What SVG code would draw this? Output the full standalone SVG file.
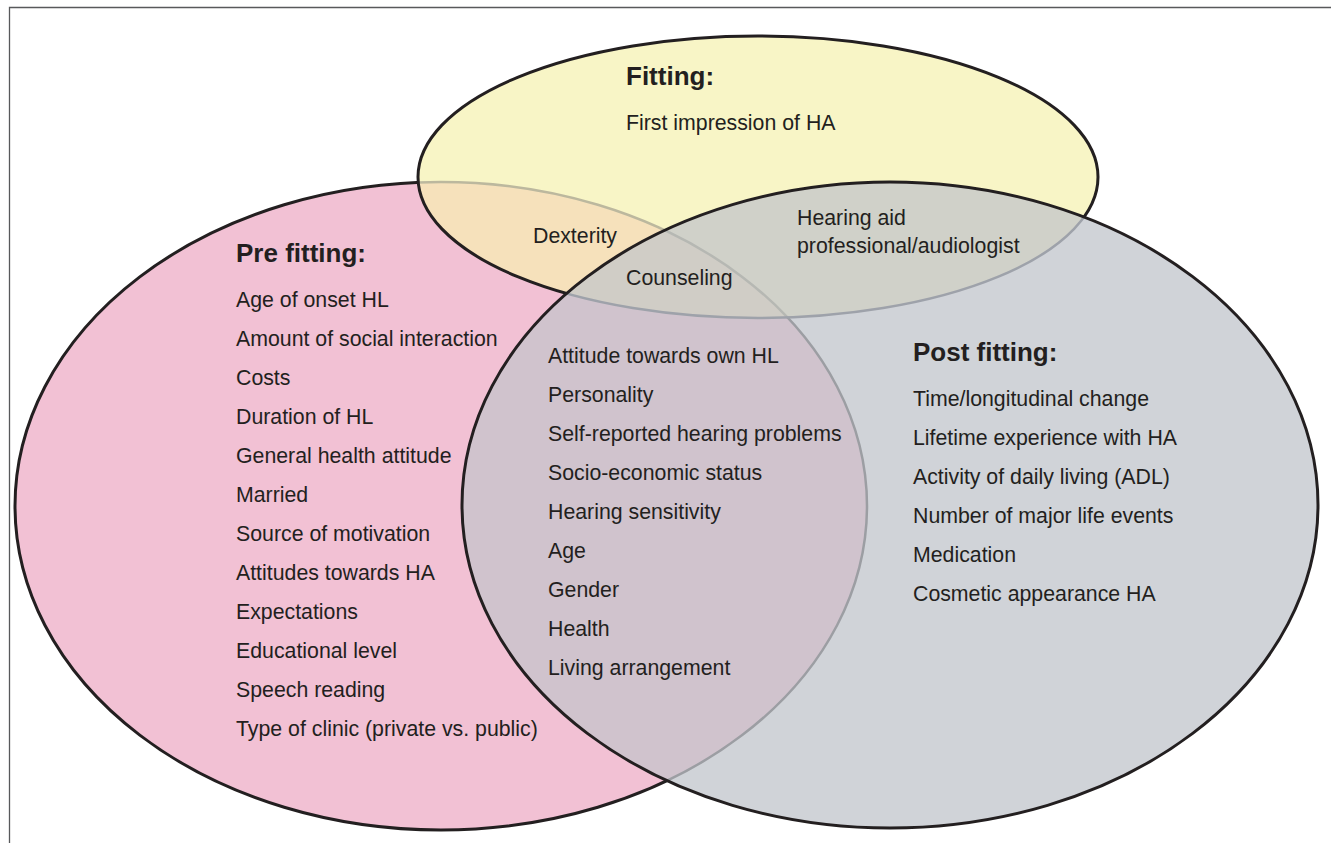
<svg xmlns="http://www.w3.org/2000/svg" width="1331" height="843" viewBox="0 0 1331 843">
<style>
text{font-family:"Liberation Sans",Arial,Helvetica,sans-serif;fill:#231f20;font-size:21.3px}
.t{font-weight:bold;font-size:26px}
.ol{fill:none;stroke:#231f20;stroke-width:3}
.il{fill:none;stroke-width:2.5}
</style>
<defs>
<ellipse id="eP" cx="441" cy="506" rx="426" ry="324"/>
<ellipse id="eY" cx="758" cy="177" rx="340" ry="141"/>
<ellipse id="eG" cx="890" cy="505" rx="428" ry="323"/>
<clipPath id="cP"><use href="#eP"/></clipPath>
<clipPath id="cY"><use href="#eY"/></clipPath>
<clipPath id="cG"><use href="#eG"/></clipPath>
<mask id="mNotY" maskUnits="userSpaceOnUse" x="0" y="0" width="1331" height="843"><rect width="1331" height="843" fill="#fff"/><use href="#eY" fill="#000"/></mask>
<mask id="mNotG" maskUnits="userSpaceOnUse" x="0" y="0" width="1331" height="843"><rect width="1331" height="843" fill="#fff"/><use href="#eG" fill="#000"/></mask>
<mask id="mNotYG" maskUnits="userSpaceOnUse" x="0" y="0" width="1331" height="843"><rect width="1331" height="843" fill="#fff"/><use href="#eY" fill="#000"/><use href="#eG" fill="#000"/></mask>
</defs>
<rect width="1331" height="843" fill="#fff"/>
<path d="M9.5,843 V7.5 H1331" fill="none" stroke="#58595b" stroke-width="1.3"/>

<g id="shapes">
<use href="#eP" fill="#f2c1d4"/>
<use href="#eY" fill="#f8f5c6"/>
<use href="#eG" fill="#d0d3d8"/>
<use href="#eY" fill="#f6e1bb" clip-path="url(#cP)"/>
<use href="#eG" fill="#d0c3cd" clip-path="url(#cP)"/>
<use href="#eG" fill="#d0d1c9" clip-path="url(#cY)"/>
<g clip-path="url(#cY)"><use href="#eG" fill="#d0cdc6" clip-path="url(#cP)"/></g>
<g mask="url(#mNotG)"><use href="#eP" class="il" stroke="#bcb89e" clip-path="url(#cY)"/></g>
<g mask="url(#mNotY)"><use href="#eP" class="il" stroke="#9c9ea3" clip-path="url(#cG)"/></g>
<g clip-path="url(#cY)"><use href="#eP" class="il" stroke="#b6b8b3" clip-path="url(#cG)"/></g>
<use href="#eY" class="il" stroke="#9ea2aa" clip-path="url(#cG)"/>
<g mask="url(#mNotYG)"><use href="#eP" class="ol"/></g>
<g mask="url(#mNotG)"><use href="#eY" class="ol"/></g>
<use href="#eG" class="ol"/>
</g>

<g id="pre-fitting">
<text class="t" x="236" y="262">Pre fitting:</text>
<text x="236" y="307">Age of onset HL</text>
<text x="236" y="346">Amount of social interaction</text>
<text x="236" y="385">Costs</text>
<text x="236" y="424">Duration of HL</text>
<text x="236" y="463">General health attitude</text>
<text x="236" y="502">Married</text>
<text x="236" y="541">Source of motivation</text>
<text x="236" y="580">Attitudes towards HA</text>
<text x="236" y="619">Expectations</text>
<text x="236" y="658">Educational level</text>
<text x="236" y="697">Speech reading</text>
<text x="236" y="736">Type of clinic (private vs. public)</text>
</g>

<g id="fitting">
<text class="t" x="626" y="85">Fitting:</text>
<text x="626" y="130">First impression of HA</text>
</g>

<g id="pre-and-fitting">
<text x="533" y="243">Dexterity</text>
</g>

<g id="all-three">
<text x="626" y="285">Counseling</text>
</g>

<g id="fitting-and-post">
<text x="797" y="225">Hearing aid</text>
<text x="797" y="253">professional/audiologist</text>
</g>

<g id="pre-and-post">
<text x="548" y="363">Attitude towards own HL</text>
<text x="548" y="402">Personality</text>
<text x="548" y="441">Self-reported hearing problems</text>
<text x="548" y="480">Socio-economic status</text>
<text x="548" y="519">Hearing sensitivity</text>
<text x="548" y="558">Age</text>
<text x="548" y="597">Gender</text>
<text x="548" y="636">Health</text>
<text x="548" y="675">Living arrangement</text>
</g>

<g id="post-fitting">
<text class="t" x="913" y="361">Post fitting:</text>
<text x="913" y="406">Time/longitudinal change</text>
<text x="913" y="445">Lifetime experience with HA</text>
<text x="913" y="484">Activity of daily living (ADL)</text>
<text x="913" y="523">Number of major life events</text>
<text x="913" y="562">Medication</text>
<text x="913" y="601">Cosmetic appearance HA</text>
</g>
</svg>
